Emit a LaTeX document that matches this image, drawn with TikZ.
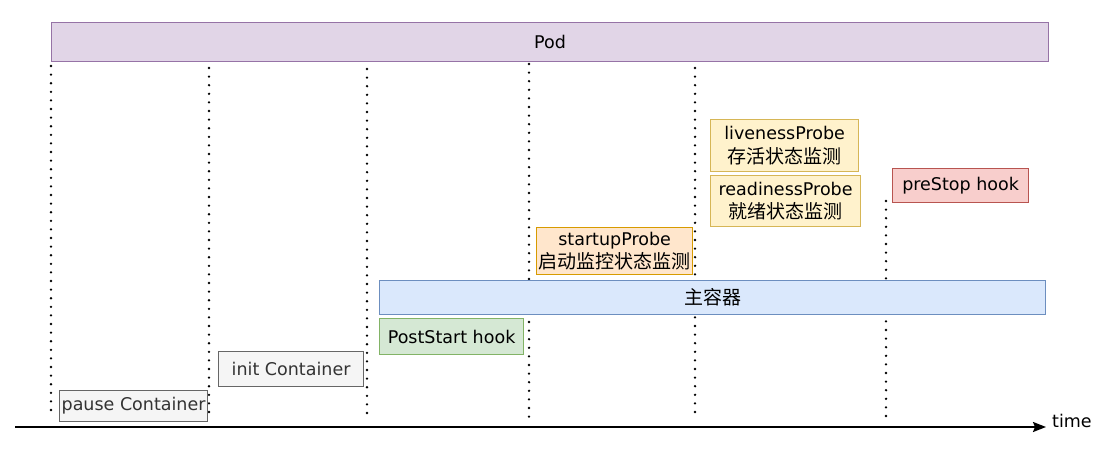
\documentclass[tikz,border=0pt]{standalone}
\usepackage{fontspec}
\setmainfont{DejaVu Sans}
\newfontfamily\cjk{Noto Sans CJK SC}
\usetikzlibrary{arrows.meta}
\definecolor{podF}{HTML}{E1D5E7}\definecolor{podD}{HTML}{9673A6}
\definecolor{grayF}{HTML}{F5F5F5}\definecolor{grayD}{HTML}{666666}\definecolor{grayT}{HTML}{333333}
\definecolor{grnF}{HTML}{D5E8D4}\definecolor{grnD}{HTML}{82B366}
\definecolor{bluF}{HTML}{DAE8FC}\definecolor{bluD}{HTML}{6C8EBF}
\definecolor{orgF}{HTML}{FFE6CC}\definecolor{orgD}{HTML}{D79B00}
\definecolor{ylwF}{HTML}{FFF2CC}\definecolor{ylwD}{HTML}{D6B656}
\definecolor{redF}{HTML}{F8CECC}\definecolor{redD}{HTML}{B85450}
\tikzset{
  box/.style={draw, line width=1.2pt, anchor=north west, inner sep=0pt, align=center,
    font=\fontsize{17.5}{23.5}\selectfont},
  podbox/.style={box, fill=podF, draw=podD},
  graybox/.style={box, fill=grayF, draw=grayD, text=grayT},
  grnbox/.style={box, fill=grnF, draw=grnD},
  blubox/.style={box, fill=bluF, draw=bluD},
  orgbox/.style={box, fill=orgF, draw=orgD},
  ylwbox/.style={box, fill=ylwF, draw=ylwD},
  redbox/.style={box, fill=redF, draw=redD},
  dots/.style={line width=2.6pt, dash pattern=on 0pt off 8.6pt, line cap=round},
}
\newcommand{\zhtext}[1]{{\cjk\fontsize{19}{23.5}\selectfont #1}}
\begin{document}
\begin{tikzpicture}[x=1pt,y=-1pt]
\useasboundingbox (0,0) rectangle (1120,450);
% dotted time markers
\coordinate (t1a) at (51,66);  \coordinate (t1b) at (51,418);
\coordinate (t2a) at (209,68); \coordinate (t2b) at (209,418);
\coordinate (t3a) at (367,69); \coordinate (t3b) at (367,420);
\coordinate (t4a) at (529,64); \coordinate (t4b) at (529,418);
\coordinate (t5a) at (695,68); \coordinate (t5b) at (695,418);
\coordinate (t6a) at (886,201); \coordinate (t6b) at (886,418);
\foreach \i in {1,...,6} \draw[dots] (t\i a) -- (t\i b);
% boxes
\node[podbox, minimum width=997pt, minimum height=39pt] (pod) at (51,22) {Pod};
\node[graybox, minimum width=148pt, minimum height=31pt] (pause) at (59,390) {pause Container};
\node[graybox, minimum width=145pt, minimum height=35pt] (init) at (218,351) {init Container};
\node[grnbox, minimum width=144pt, minimum height=36pt] (post) at (379,318) {PostStart hook};
\node[blubox, minimum width=666pt, minimum height=34pt] (main) at (379,280) {\zhtext{主容器}};
\node[orgbox, minimum width=156pt, minimum height=47pt] (startup) at (536,227) {startupProbe\\\zhtext{启动监控状态监测}};
\node[ylwbox, minimum width=148pt, minimum height=52pt] (live) at (710,119) {livenessProbe\\\zhtext{存活状态监测}};
\node[ylwbox, minimum width=150pt, minimum height=51pt] (ready) at (710,175) {readinessProbe\\\zhtext{就绪状态监测}};
\node[redbox, minimum width=136pt, minimum height=34pt] (prestop) at (892,168) {preStop hook};
% time axis
\coordinate (axs) at (15,427);
\coordinate (axe) at (1046,427);
\node[anchor=west, inner sep=0pt, font=\fontsize{17.5}{19}\selectfont] (time) at (1052,421) {time};
\draw[line width=1.8pt, -{Stealth[length=13pt,width=10pt,inset=2pt]}] (axs) -- (axe);
\end{tikzpicture}
\end{document}
